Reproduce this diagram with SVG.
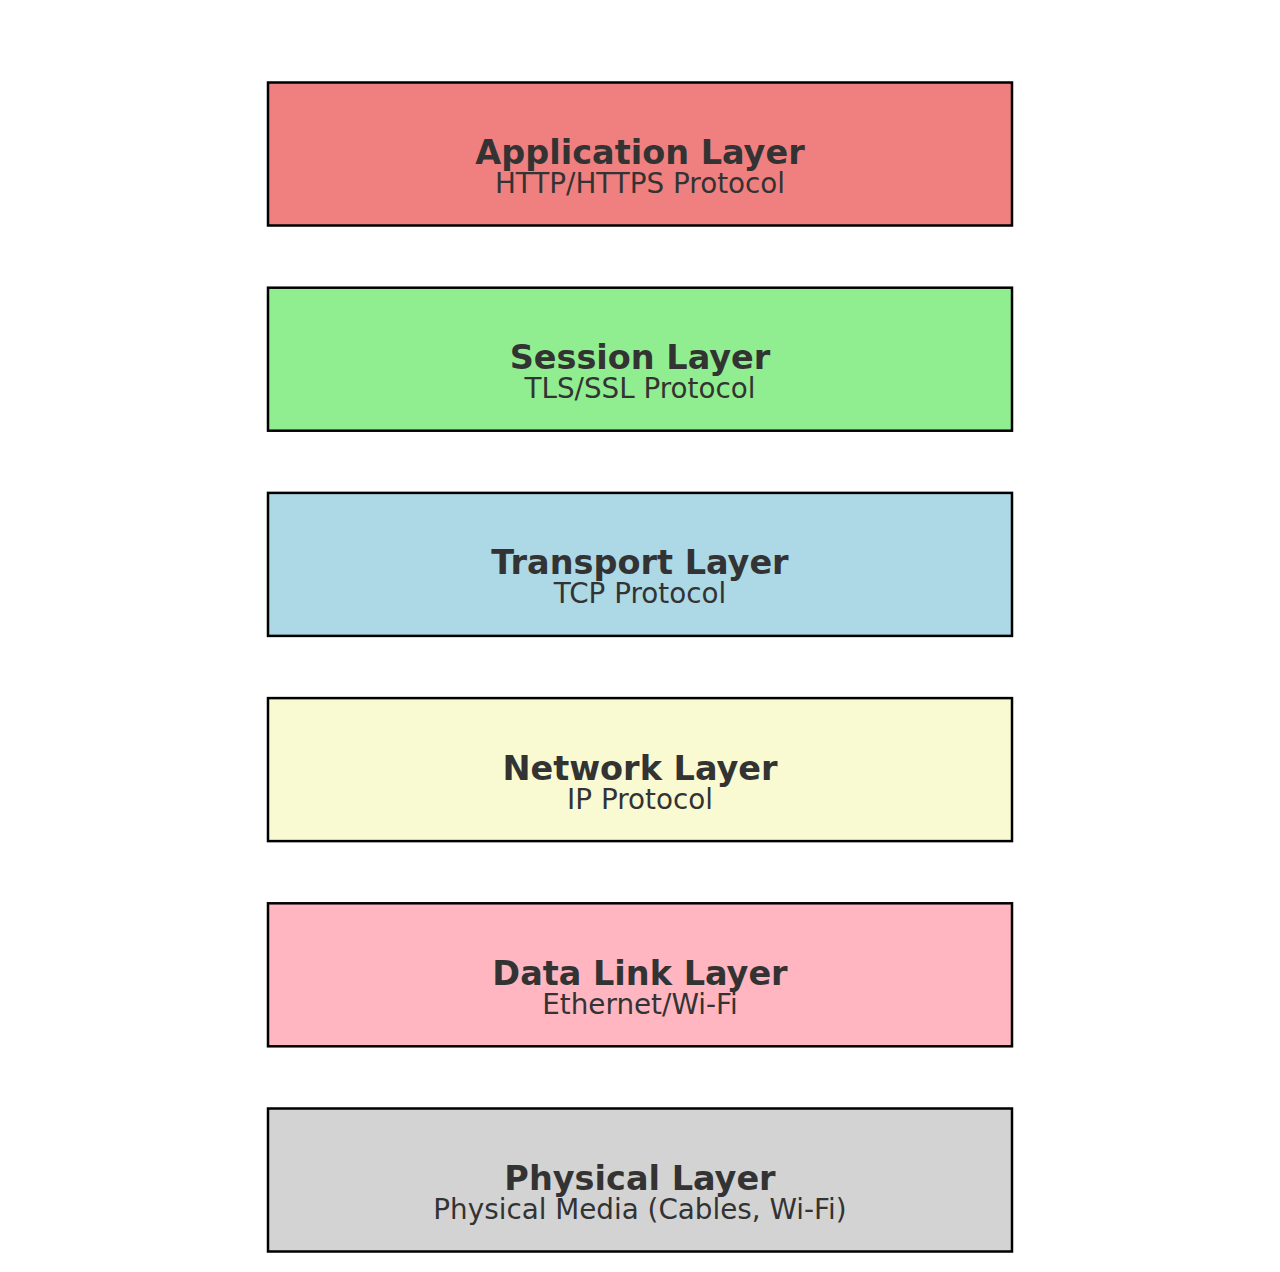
<svg xmlns="http://www.w3.org/2000/svg" width="1280" height="1272" viewBox="0 0 1280 1272">
<style>
.box{stroke:#000;stroke-width:2.5}
.t{font-family:"DejaVu Sans",sans-serif;font-weight:bold;font-size:33.5px;fill:#333;text-anchor:middle}
.s{font-family:"DejaVu Sans",sans-serif;font-size:27.8px;fill:#333;text-anchor:middle}
</style>
<rect width="1280" height="1272" fill="#fff"/>
<g id="connectors"></g>
<g id="application">
<rect class="box" x="268" y="82.5" width="744" height="143" fill="#F08080"/>
<text class="t" x="640" y="164">Application Layer</text>
<text class="s" x="640" y="193">HTTP/HTTPS Protocol</text>
</g>
<g id="session">
<rect class="box" x="268" y="287.7" width="744" height="143" fill="#90EE90"/>
<text class="t" x="640" y="369.2">Session Layer</text>
<text class="s" x="640" y="398.2">TLS/SSL Protocol</text>
</g>
<g id="transport">
<rect class="box" x="268" y="492.9" width="744" height="143" fill="#ADD8E6"/>
<text class="t" x="640" y="574.4">Transport Layer</text>
<text class="s" x="640" y="603.4">TCP Protocol</text>
</g>
<g id="network">
<rect class="box" x="268" y="698.1" width="744" height="143" fill="#FAFAD2"/>
<text class="t" x="640" y="779.6">Network Layer</text>
<text class="s" x="640" y="808.6">IP Protocol</text>
</g>
<g id="datalink">
<rect class="box" x="268" y="903.3" width="744" height="143" fill="#FFB6C1"/>
<text class="t" x="640" y="984.8">Data Link Layer</text>
<text class="s" x="640" y="1013.8">Ethernet/Wi-Fi</text>
</g>
<g id="physical">
<rect class="box" x="268" y="1108.5" width="744" height="143" fill="#D3D3D3"/>
<text class="t" x="640" y="1190">Physical Layer</text>
<text class="s" x="640" y="1219">Physical Media (Cables, Wi-Fi)</text>
</g>
</svg>
